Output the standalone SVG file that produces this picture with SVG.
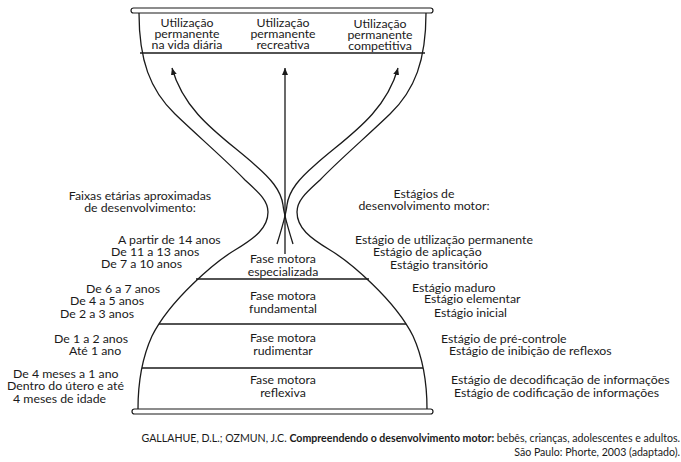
<svg xmlns="http://www.w3.org/2000/svg" width="681" height="462" viewBox="0 0 681 462">
<style>
  .ln{fill:none;stroke:#1a1a1a;stroke-width:1.3}
  .bar{fill:#fff;stroke:#1a1a1a;stroke-width:1.2}
  text{font-family:Lato,"Liberation Sans",sans-serif;font-size:12.3px;fill:#1a1a1a}
  .c{text-anchor:middle}
  .ref{font-size:10.6px}
  .b{font-weight:bold}
</style>
<defs>
  <marker id="ah" markerWidth="8" markerHeight="8" refX="7" refY="4" orient="auto" markerUnits="userSpaceOnUse">
    <path d="M0,1 L7,4 L0,7 Z" fill="#1a1a1a"/>
  </marker>
  <path id="side" d="M139 13 C139 60 150 90 175 114 C200 138 228 162 245 180 C258 192 268 200 268 212 C268 228 255 238 235 250 C215 262 170 300 152 336 C142 358 138 380 138 409"/>
  <path id="arc" d="M293 244 C288 228 284 215 283 205 C281 190 270 178 255 165 C225 138 185 115 172 68"/>
</defs>
<g id="hourglass">
  <use href="#side" class="ln"/>
  <use href="#side" class="ln" transform="translate(565,0) scale(-1,1)"/>
  <rect class="bar" x="131" y="8" width="302" height="5" rx="2.5"/>
  <rect class="bar" x="132" y="409" width="301" height="5" rx="2.5"/>
</g>
<g id="top-box">
  <line class="ln" x1="140" y1="53" x2="425" y2="53"/>
  <text class="c" x="187" y="27">Utilização</text>
  <text class="c" x="187" y="38">permanente</text>
  <text class="c" x="187" y="49">na vida diária</text>
  <text class="c" x="283" y="27">Utilização</text>
  <text class="c" x="283" y="38">permanente</text>
  <text class="c" x="283" y="49">recreativa</text>
  <text class="c" x="380" y="28">Utilização</text>
  <text class="c" x="380" y="39">permanente</text>
  <text class="c" x="380" y="50">competitiva</text>
</g>
<g id="connectors">
  <line class="ln" x1="285" y1="254" x2="285" y2="68" marker-end="url(#ah)"/>
  <use href="#arc" class="ln" marker-end="url(#ah)"/>
  <path class="ln" d="M277 244 C282 228 286 215 287 205 C289 190 300 178 315 165 C345 138 385 115 398 68" marker-end="url(#ah)"/>
</g>
<g id="fase-especializada">
  <line class="ln" x1="196" y1="279" x2="369" y2="279"/>
  <text class="c" x="283" y="263">Fase motora</text>
  <text class="c" x="283" y="276">especializada</text>
</g>
<g id="fase-fundamental">
  <line class="ln" x1="159" y1="324" x2="406" y2="324"/>
  <text class="c" x="283" y="300">Fase motora</text>
  <text class="c" x="283" y="313">fundamental</text>
</g>
<g id="fase-rudimentar">
  <line class="ln" x1="142" y1="368" x2="423" y2="368"/>
  <text class="c" x="283" y="342">Fase motora</text>
  <text class="c" x="283" y="355">rudimentar</text>
</g>
<g id="fase-reflexiva">
  <text class="c" x="283" y="384">Fase motora</text>
  <text class="c" x="283" y="397">reflexiva</text>
</g>
<g id="faixas">
  <text class="c" x="140" y="200">Faixas etárias aproximadas</text>
  <text class="c" x="140" y="212">de desenvolvimento:</text>
  <text x="118" y="244">A partir de 14 anos</text>
  <text x="111" y="256">De 11 a 13 anos</text>
  <text x="101" y="268">De 7 a 10 anos</text>
  <text x="86" y="293">De 6 a 7 anos</text>
  <text x="70" y="305">De 4 a 5 anos</text>
  <text x="60" y="318">De 2 a 3 anos</text>
  <text x="54" y="343">De 1 a 2 anos</text>
  <text x="69" y="355">Até 1 ano</text>
  <text x="13" y="378">De 4 meses a 1 ano</text>
  <text x="7" y="390">Dentro do útero e até</text>
  <text x="13" y="403">4 meses de idade</text>
</g>
<g id="estagios">
  <text class="c" x="424" y="198">Estágios de</text>
  <text class="c" x="424" y="210">desenvolvimento motor:</text>
  <text x="355" y="244">Estágio de utilização permanente</text>
  <text x="373" y="256">Estágio de aplicação</text>
  <text x="390" y="269">Estágio transitório</text>
  <text x="412" y="292">Estágio maduro</text>
  <text x="424" y="303">Estágio elementar</text>
  <text x="434" y="317">Estágio inicial</text>
  <text x="441" y="343">Estágio de pré-controle</text>
  <text x="449" y="355">Estágio de inibição de reflexos</text>
  <text x="451" y="384">Estágio de decodificação de informações</text>
  <text x="454" y="397">Estágio de codificação de informações</text>
</g>
<g id="referencia">
  <text class="ref" x="680" y="442" text-anchor="end">GALLAHUE, D.L.; OZMUN, J.C. <tspan class="b">Compreendendo o desenvolvimento motor:</tspan> bebês, crianças, adolescentes e adultos.</text>
  <text class="ref" x="680" y="456" text-anchor="end">São Paulo: Phorte, 2003 (adaptado).</text>
</g>
</svg>
